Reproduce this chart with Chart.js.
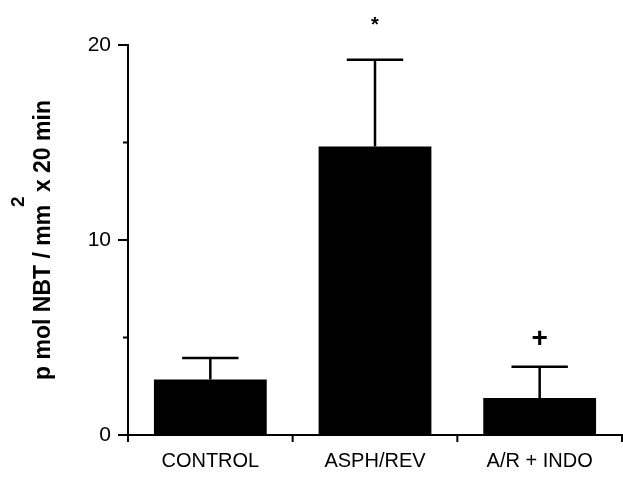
<!DOCTYPE html>
<html>
<head>
<meta charset="utf-8">
<script src="https://cdn.jsdelivr.net/npm/chart.js@4.4.1/dist/chart.umd.min.js"></script>
<style>
  html, body { margin: 0; padding: 0; background: #fff; }
  #wrap { width: 623px; height: 477px; }
</style>
</head>
<body>
<div id="wrap"><canvas id="nbt"></canvas></div>
<script>
// groups and values
const groups = ["CONTROL", "ASPH/REV", "A/R + INDO"];
const means = [2.85, 14.8, 1.9];
const sems = [1.1, 4.45, 1.6];
const signs = ["", "*", "+"];
const signLevel = [null, 21.0, 4.9];
const yTicks = [0, 10, 20];
const yMinor = [5, 15];

const labelFont = "'Liberation Sans', Arial, sans-serif";

// error bars, axis ticks, significance marks and y title
const extras = {
  id: "extras",
  afterDatasetsDraw(chart) {
    const c = chart.ctx;
    const y = chart.scales.y;
    const x = chart.scales.x;
    const meta = chart.getDatasetMeta(0);
    c.save();
    c.strokeStyle = "#000";
    c.fillStyle = "#000";

    // error bars (upper only)
    c.lineWidth = 2.5;
    meta.data.forEach((bar, i) => {
      const top = y.getPixelForValue(means[i] + sems[i]);
      const half = bar.width * 0.25;
      c.beginPath();
      c.moveTo(bar.x, bar.y);
      c.lineTo(bar.x, top);
      c.moveTo(bar.x - half, top);
      c.lineTo(bar.x + half, top);
      c.stroke();
    });

    // y ticks
    c.lineWidth = 2;
    yTicks.forEach(v => {
      const p = y.getPixelForValue(v);
      c.beginPath();
      c.moveTo(x.left - 10, p);
      c.lineTo(x.left, p);
      c.stroke();
    });
    yMinor.forEach(v => {
      const p = y.getPixelForValue(v);
      c.beginPath();
      c.moveTo(x.left - 5, p);
      c.lineTo(x.left, p);
      c.stroke();
    });

    // x ticks at group boundaries
    for (let i = 0; i <= groups.length; i++) {
      const p = i < groups.length ? x.getPixelForValue(i) - (x.width / groups.length) / 2 : x.right;
      c.beginPath();
      c.moveTo(p, y.bottom);
      c.lineTo(p, y.bottom + 7);
      c.stroke();
    }

    // significance marks
    c.textAlign = "center";
    c.textBaseline = "middle";
    signs.forEach((s, i) => {
      if (!s) return;
      c.font = s === "*" ? "bold 20px 'Liberation Sans', Arial" : "bold 28px 'Liberation Sans', Arial";
      c.fillText(s, meta.data[i].x, y.getPixelForValue(signLevel[i]));
    });

    // y title with squared unit
    const main1 = "p mol NBT / mm";
    const main2 = "  x 20 min";
    c.font = "bold 23px 'Liberation Sans', Arial";
    const w1 = c.measureText(main1).width;
    const w = w1 + c.measureText(main2).width;
    c.translate(50, (y.top + y.bottom) / 2);
    c.rotate(-Math.PI / 2);
    c.textAlign = "left";
    c.textBaseline = "alphabetic";
    const start = -w / 2;
    c.fillText(main1 + main2, start, 0);
    c.font = "bold 19px 'Liberation Sans', Arial";
    c.fillText("2", start + w1 - 2, -26);
    c.restore();
  }
};

new Chart(document.getElementById("nbt"), {
  type: "bar",
  data: {
    labels: groups,
    datasets: [{
      data: means,
      backgroundColor: "#000",
      borderWidth: 0,
      barPercentage: 0.685,
      categoryPercentage: 1.0
    }]
  },
  options: {
    responsive: true,
    maintainAspectRatio: false,
    animation: false,
    layout: { padding: { left: 0, right: 1, top: 45, bottom: 0 } },
    plugins: { legend: { display: false }, tooltip: { enabled: false } },
    scales: {
      x: {
        grid: { display: false, drawTicks: false },
        border: { display: true, color: "#000", width: 2 },
        ticks: { color: "#000", padding: 14, font: { family: labelFont, size: 20 } },
        afterFit(s) { s.height = 42; }
      },
      y: {
        min: 0,
        max: 20,
        grid: { display: false, drawTicks: false },
        border: { display: true, color: "#000", width: 2 },
        ticks: {
          stepSize: 10,
          color: "#000",
          padding: 17,
          font: { family: labelFont, size: 21 }
        },
        afterFit(s) { s.width = 128; }
      }
    }
  },
  plugins: [extras]
});
</script>
</body>
</html>
